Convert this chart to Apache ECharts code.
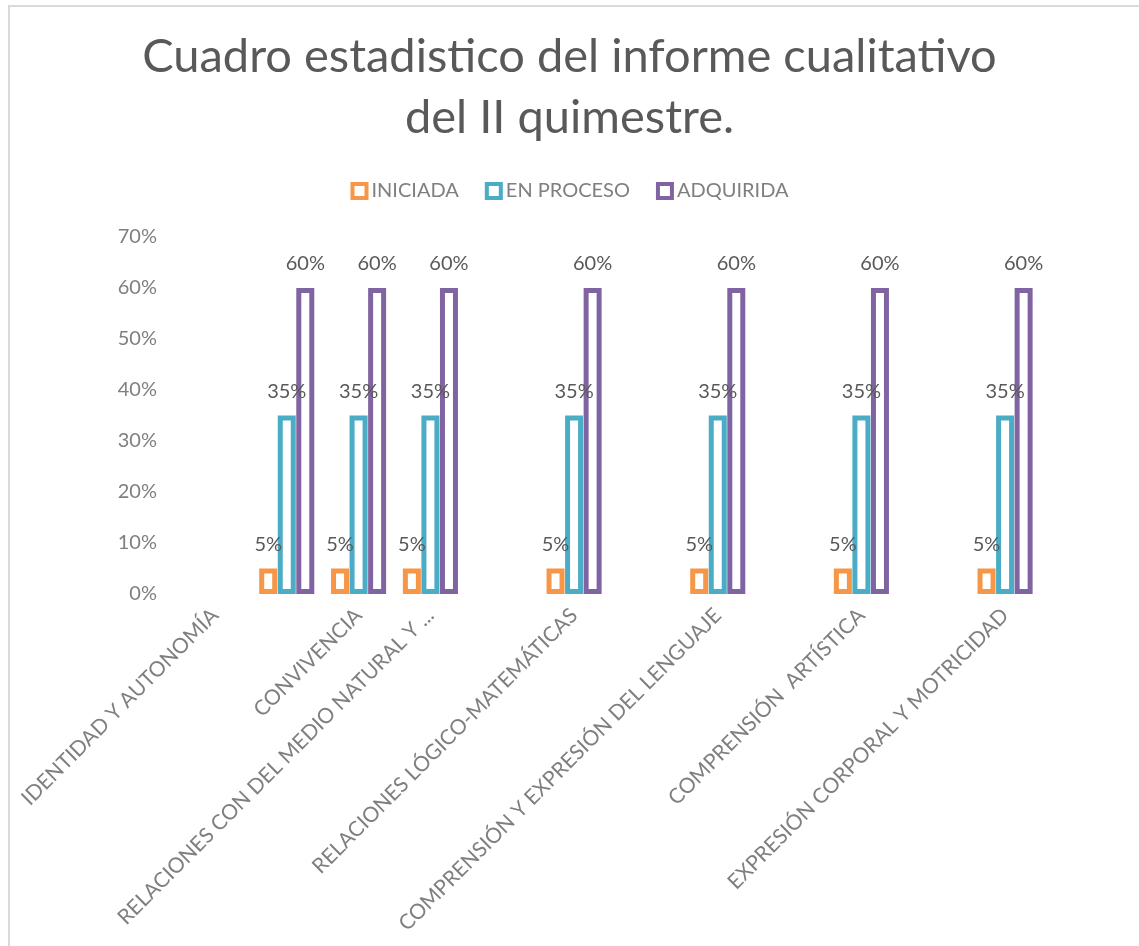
<!DOCTYPE html>
<html>
<head>
<meta charset="utf-8">
<script src="https://cdn.jsdelivr.net/npm/echarts@6/dist/echarts.min.js"></script>
<style>
  html, body { margin: 0; padding: 0; background: #fff; overflow: hidden; }
  #frame { position: absolute; left: 8px; top: 5px; width: 1200px; height: 1000px;
           border: 2px solid #d9d9d9; box-sizing: border-box; }
  #chart { position: absolute; left: 0; top: 0; width: 1139px; height: 946px; }
</style>
</head>
<body>
<div id="frame"></div>
<div id="chart"></div>
<script>
// categories (blank slots are empty cells in the source sheet)
const categories = [
  'IDENTIDAD Y AUTONOMÍA', '', 'CONVIVENCIA', 'RELACIONES CON DEL MEDIO NATURAL Y ...',
  '', 'RELACIONES LÓGICO-MATEMÁTICAS', '', 'COMPRENSIÓN Y EXPRESIÓN DEL LENGUAJE',
  '', 'COMPRENSIÓN  ARTÍSTICA', '', 'EXPRESIÓN CORPORAL Y MOTRICIDAD'
];
const iniciada  = [null, 0.05, 0.05, 0.05, null, 0.05, null, 0.05, null, 0.05, null, 0.05];
const enProceso = [null, 0.35, 0.35, 0.35, null, 0.35, null, 0.35, null, 0.35, null, 0.35];
const adquirida = [null, 0.60, 0.60, 0.60, null, 0.60, null, 0.60, null, 0.60, null, 0.60];
const seriesNames = ['INICIADA', 'EN PROCESO', 'ADQUIRIDA'];
const colors = ['#F79646', '#4BACC6', '#8064A2'];

const chart = echarts.init(document.getElementById('chart'));
const font = 'Lato';

const pct = v => Math.round(v * 100) + '%';

function makeSeries(name, data, color) {
  return {
    name: name,
    type: 'bar',
    data: data,
    barWidth: 18,
    barGap: '3%',
    itemStyle: { color: '#ffffff', borderColor: color, borderWidth: 5 },
    label: {
      show: true,
      position: 'top',
      distance: 14,
      fontFamily: font,
      fontSize: 20,
      color: '#595959',
      formatter: p => pct(p.value)
    }
  };
}

const option = {
  backgroundColor: 'transparent',
  animation: false,
  title: {
    text: 'Cuadro estadistico del informe cualitativo\ndel II quimestre.',
    left: 'center',
    top: 21,
    textStyle: { fontFamily: font, fontSize: 47, fontWeight: 'normal', color: '#595959', lineHeight: 61 }
  },
  legend: {
    top: 176,
    left: 'center',
    itemWidth: 14,
    itemHeight: 14,
    itemGap: 26,
    textStyle: { fontFamily: font, fontSize: 20, color: '#7f7f7f' },
    data: seriesNames.map((n, i) => ({
      name: n,
      icon: 'rect',
      itemStyle: { color: '#ffffff', borderColor: colors[i], borderWidth: 4 }
    }))
  },
  grid: { left: 179, right: 98, top: 237, bottom: 352, containLabel: false },
  xAxis: {
    type: 'category',
    data: categories,
    axisLine: { show: false },
    axisTick: { show: false },
    axisLabel: {
      interval: 0,
      rotate: 45,
      margin: 18,
      fontFamily: font,
      fontSize: 21,
      color: '#7f7f7f'
    }
  },
  yAxis: {
    type: 'value',
    min: 0,
    max: 0.7,
    interval: 0.1,
    axisLine: { show: false },
    axisTick: { show: false },
    splitLine: { show: false },
    axisLabel: {
      margin: 22,
      fontFamily: font,
      fontSize: 20,
      color: '#7f7f7f',
      formatter: v => pct(v)
    }
  },
  series: [
    makeSeries(seriesNames[0], iniciada, colors[0]),
    makeSeries(seriesNames[1], enProceso, colors[1]),
    makeSeries(seriesNames[2], adquirida, colors[2])
  ]
};

chart.setOption(option);
</script>
</body>
</html>
